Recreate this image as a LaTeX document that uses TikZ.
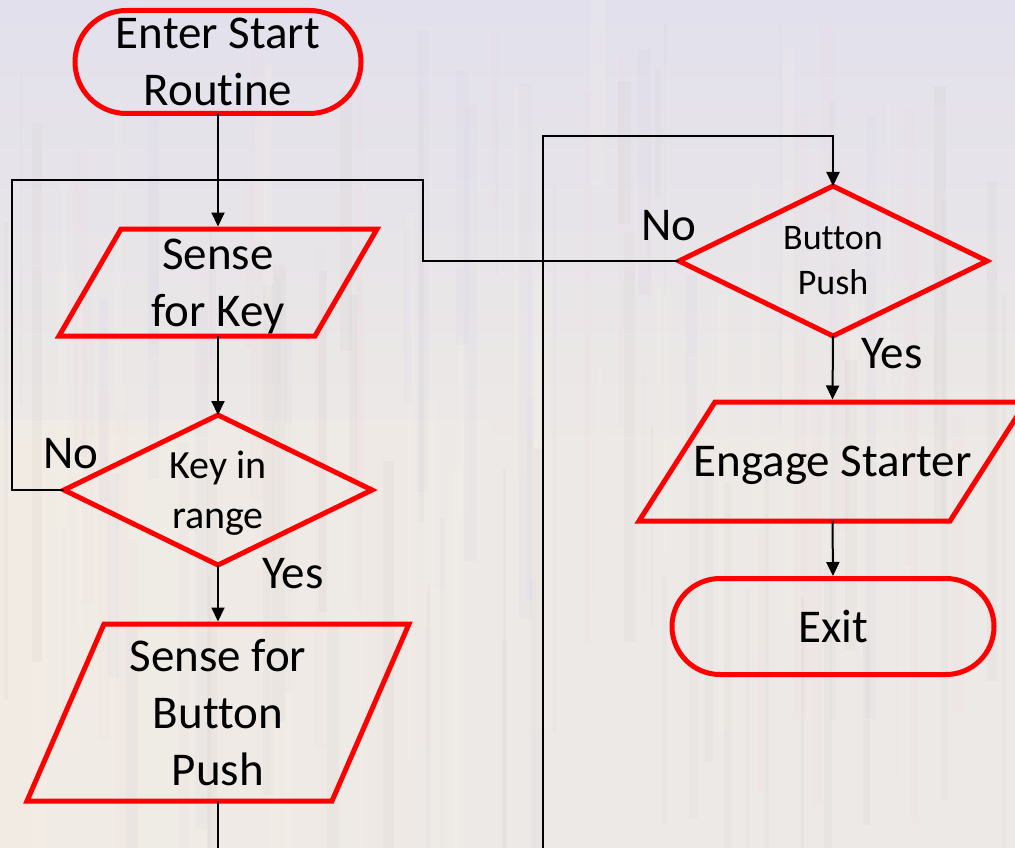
\documentclass[tikz,border=0pt]{standalone}
\usepackage{fontspec}
\setmainfont{Carlito}[Ligatures=NoCommon]
\usetikzlibrary{calc,arrows.meta}

\definecolor{flowred}{RGB}{255,0,0}
\definecolor{bgbase}{RGB}{237,233,230}
\definecolor{bglav}{RGB}{226,224,236}
\definecolor{bgcream}{RGB}{243,237,228}
\definecolor{streak0}{RGB}{214,211,228}
\definecolor{streak1}{RGB}{248,244,232}
\definecolor{streak2}{RGB}{238,218,224}
\definecolor{streak3}{RGB}{208,203,199}

\tikzset{
  outline/.style={draw=flowred, line width=5pt, line join=miter},
  conn/.style={draw=black, line width=2pt},
  arr/.style={conn, -{Triangle[length=14pt,width=13pt]}},
  bigtext/.style={font=\fontsize{47}{57}\selectfont},
  holder/.style={inner sep=0pt, outer sep=0pt, align=center, text=black},
  terminal/.style={holder, outline, bigtext},
  lbl/.style={bigtext, anchor=base, inner sep=0pt}
}

% slanted input/output box around a named holder node
\newcommand\slantbox[2]{%
  \draw[outline] ($(#1.north west)+(#2/2,0)$) -- ($(#1.north east)+(#2/2,0)$)
    -- ($(#1.south east)-(#2/2,0)$) -- ($(#1.south west)-(#2/2,0)$) -- cycle;}
% decision diamond through the mid-side anchors of a holder node
\newcommand\decisionbox[1]{%
  \draw[outline] (#1.north) -- (#1.east) -- (#1.south) -- (#1.west) -- cycle;}

\begin{document}
\begin{tikzpicture}[x=1pt,y=-1pt]
  \clip (0,0) rectangle (1015,848);

  % faded board-like backdrop
  \fill[bgbase] (0,0) rectangle (1015,848);
  \shade[top color=bglav, bottom color=bgbase] (0,0) rectangle (1015,460);
  \shade[left color=bgcream, right color=bgbase, opacity=0.7] (0,420) rectangle (560,848);
  \pgfmathsetseed{7}
  \foreach \i in {1,...,120}{
    \pgfmathsetmacro\sx{rnd*1015}
    \pgfmathsetmacro\sw{2+rnd*12}
    \pgfmathsetmacro\sy{rnd*650}
    \pgfmathsetmacro\sh{120+rnd*500}
    \pgfmathtruncatemacro\sc{mod(\i,4)}
    \fill[streak\sc, opacity=0.16] (\sx,\sy) rectangle ++(\sw,\sh);
  }

  % left column
  \node[terminal, minimum width=286pt, minimum height=103pt, rounded corners=51.5pt]
    (start) at (218,62) {Enter Start\\Routine};
  \node[holder, bigtext, text depth=0pt, minimum width=256pt, minimum height=107pt]
    (sensekey) at (218,282.5) {Sense\\for Key};
  \slantbox{sensekey}{62}
  \node[holder, font=\fontsize{40}{50}\selectfont, text depth=0pt,
        minimum width=308pt, minimum height=150pt]
    (keyin) at (218,490) {Key in\\range};
  \decisionbox{keyin}
  \node[holder, bigtext, minimum width=305pt, minimum height=177pt]
    (sensebtn) at (218,712.5) {Sense for\\Button\\Push};
  \slantbox{sensebtn}{77}

  % right column
  \node[holder, font=\fontsize{36}{45}\selectfont, minimum width=308pt, minimum height=150pt]
    (bpush) at (833,261) {Button\\Push};
  \decisionbox{bpush}
  \node[holder, bigtext, text depth=0pt, minimum width=311pt, minimum height=119pt]
    (engage) at (832.5,461.5) {Engage Starter};
  \slantbox{engage}{76}
  \node[terminal, minimum width=322pt, minimum height=96pt, rounded corners=48pt]
    (exit) at (833,626.5) {Exit};

  % routing points
  \coordinate (join) at (218,180);
  \coordinate (leftrail) at (12,180);
  \coordinate (midrail) at (423,180);
  \coordinate (downout) at (218,860);
  \coordinate (upin) at (543,860);
  \coordinate (railtop) at (543,136);

  % connectors
  \draw[arr, shorten >=2.5pt] (start.south) -- (sensekey.north);
  \draw[arr] (sensekey.south) -- (keyin.north);
  \draw[arr, shorten >=2.5pt] (keyin.south) -- (sensebtn.north);
  \draw[conn] (keyin.west) -| (leftrail) -- (join);
  \draw[conn] (bpush.west) -| (midrail) -- (join);
  \draw[conn] (sensebtn.south) -- (downout);
  \draw[arr] (upin) -- (railtop) -| (bpush.north);
  \draw[arr, shorten >=2.5pt] (bpush.south) -- (engage.north);
  \draw[arr, shorten >=2.5pt] (engage.south) -- (exit.north);

  % branch labels
  \node[lbl] (nokey) at (71,468) {No};
  \node[lbl] (yeskey) at (293,588) {Yes};
  \node[lbl] (nobtn) at (669,240) {No};
  \node[lbl] (yesbtn) at (892,368) {Yes};
\end{tikzpicture}
\end{document}
